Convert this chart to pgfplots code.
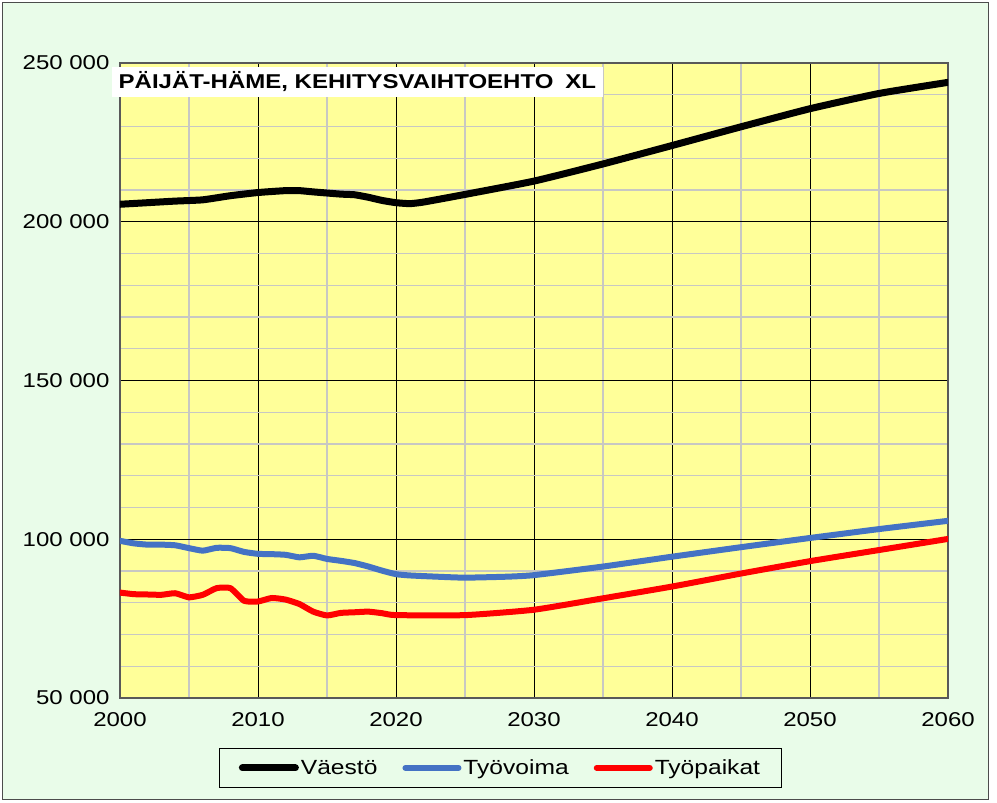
\documentclass[border=0pt]{standalone}
\usepackage{fontspec}
\setmainfont{Liberation Sans}[FakeStretch=1.2]
\usepackage{pgfplots}
\pgfplotsset{compat=1.18}
\definecolor{bggreen}{RGB}{233,252,233}
\definecolor{plotyellow}{RGB}{255,255,153}
\definecolor{lineblue}{RGB}{68,114,196}
\definecolor{minorgrey}{RGB}{200,200,195}

\pgfplotstableread{
year val
2000 205500
2002 206000
2004 206500
2006 206900
2008 208200
2010 209200
2012 209800
2013 209800
2014 209400
2016 208700
2017 208500
2018 207700
2019 206700
2020 206000
2021 205700
2022 206200
2025 208600
2030 212800
2035 218200
2040 224000
2045 229900
2050 235600
2055 240400
2060 243900
}\vaesto

\pgfplotstableread{
year val
2000 99500
2001 98700
2002 98300
2003 98300
2004 98100
2005 97200
2006 96400
2007 97300
2008 97200
2009 96000
2010 95400
2011 95300
2012 95100
2013 94300
2014 94800
2015 93800
2016 93200
2017 92500
2018 91400
2019 90100
2020 89000
2021 88600
2023 88200
2025 87900
2028 88200
2030 88700
2035 91400
2040 94500
2045 97500
2050 100400
2055 103200
2060 105800
}\tyovoima

\pgfplotstableread{
year val
2000 83200
2001 82700
2002 82600
2003 82500
2004 83000
2005 81700
2006 82500
2007 84600
2008 84600
2009 80600
2010 80400
2011 81500
2012 81000
2013 79600
2014 77200
2015 76000
2016 76800
2017 77000
2018 77200
2019 76700
2020 76100
2025 76100
2030 77800
2035 81400
2040 85100
2045 89200
2050 93100
2055 96600
2060 100100
}\tyopaikat

\begin{document}
\begin{tikzpicture}[x=1bp,y=1bp]
\fill[white] (-120,-105) rectangle (877,698);
\filldraw[fill=bggreen, draw=black!70, line width=1bp] (-117,-102) rectangle (868,695);
\begin{axis}[
  at={(0,0)}, anchor=south west,
  scale only axis, width=828bp, height=635bp,
  xmin=2000, xmax=2060, ymin=50000, ymax=250000,
  scaled y ticks=false, scaled x ticks=false,
  xtick={2000,2010,2020,2030,2040,2050,2060},
  xticklabels={2000,2010,2020,2030,2040,2050,2060},
  minor xtick={2005,2015,2025,2035,2045,2055},
  ytick={50000,100000,150000,200000,250000},
  yticklabels={50 000,100 000,150 000,200 000,250 000},
  minor ytick={60000,70000,...,240000},
  grid=both,
  major grid style={black, line width=0.9bp},
  minor grid style={minorgrey, line width=1.3bp},
  major tick length=0pt, minor tick length=0pt,
  axis line style={black!65, line width=1.2bp},
  axis background/.style={fill=plotyellow},
  tick label style={font=\fontsize{20bp}{24bp}\selectfont},
  xticklabel style={yshift=-11bp},
  yticklabel style={xshift=-7bp},
  legend style={at={(0.4595,-0.110)}, anchor=center, legend columns=3,
    draw=black, line width=0.8bp, fill=bggreen,
    font=\fontsize{20.5bp}{24bp}\selectfont,
    inner xsep=19bp, inner ysep=9bp,
    nodes={inner sep=2bp},
    /tikz/every even column/.append style={column sep=23bp}},
  legend image code/.code={\draw[#1] (0bp,0bp) -- (53bp,0bp);},
]
\addplot[black, line width=7bp, line join=round, line cap=round, smooth, tension=0.3] table[x=year,y=val] {\vaesto};
\addlegendentry{Väestö}
\addplot[lineblue, line width=6bp, line join=round, line cap=round, smooth, tension=0.3] table[x=year,y=val] {\tyovoima};
\addlegendentry{Työvoima}
\addplot[red, line width=6bp, line join=round, line cap=round, smooth, tension=0.3] table[x=year,y=val] {\tyopaikat};
\addlegendentry{Työpaikat}
\end{axis}
\node[fill=white, inner sep=0pt, minimum width=491bp, minimum height=30bp,
  font=\bfseries\fontsize{20bp}{24bp}\selectfont] at (237.4,616.3)
  {PÄIJÄT-HÄME, KEHITYSVAIHTOEHTO\hspace{0.6em}XL};
\end{tikzpicture}
\end{document}
